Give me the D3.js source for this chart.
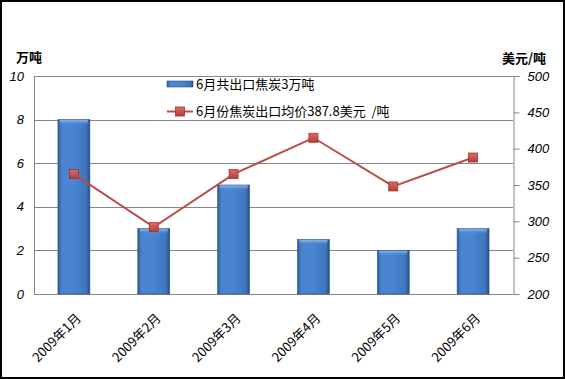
<!DOCTYPE html>
<html><head><meta charset="utf-8">
<script src="https://cdn.jsdelivr.net/npm/d3@7"></script>
<style>
html,body{margin:0;padding:0;background:#fff;}
svg{display:block;}
</style></head>
<body>
<svg id="c" width="565" height="379"></svg>
<script>
const categories = ["2009年1月","2009年2月","2009年3月","2009年4月","2009年5月","2009年6月"];
const exportVolume = [8, 3, 5, 2.5, 2, 3];          // 万吨
const avgPrice = [365, 292, 365, 415, 348, 387.8];   // 美元/吨
const leftTicks = [0, 2, 4, 6, 8, 10];
const rightTicks = [200, 250, 300, 350, 400, 450, 500];
const barLegend = "6月共出口焦炭3万吨";
const lineLegend = "6月份焦炭出口均价387.8美元  /吨";
const leftTitle = "万吨";
const rightTitle = "美元/吨";

const svg = d3.select("#c");
const W = 565, H = 379;
const m = {left: 34, right: 513, top: 76, bottom: 294};

// frame
svg.append("rect").attr("x",1).attr("y",1).attr("width",W-2).attr("height",H-2)
  .attr("fill","#fff").attr("stroke","#000").attr("stroke-width",2);

const defs = svg.append("defs");
const bg = defs.append("linearGradient").attr("id","barG").attr("x1","0").attr("x2","1").attr("y1","0").attr("y2","0");
bg.append("stop").attr("offset","0%").attr("stop-color","#2d5c98");
bg.append("stop").attr("offset","12%").attr("stop-color","#4a84cf");
bg.append("stop").attr("offset","50%").attr("stop-color","#4b86d2");
bg.append("stop").attr("offset","88%").attr("stop-color","#3f76bd");
bg.append("stop").attr("offset","100%").attr("stop-color","#264f85");
const tg = defs.append("linearGradient").attr("id","topG").attr("x1","0").attr("x2","0").attr("y1","0").attr("y2","1");
tg.append("stop").attr("offset","0%").attr("stop-color","#8fb8ea");
tg.append("stop").attr("offset","100%").attr("stop-color","#4b86d2").attr("stop-opacity",0);
const mg = defs.append("linearGradient").attr("id","mkG").attr("x1","0").attr("x2","0").attr("y1","0").attr("y2","1");
mg.append("stop").attr("offset","0%").attr("stop-color","#e06a66");
mg.append("stop").attr("offset","100%").attr("stop-color","#b53d3a");

const x = d3.scaleBand().domain(categories).range([m.left, m.right]).paddingInner(0.6).paddingOuter(0.3);
const yL = d3.scaleLinear().domain([0,10]).range([m.bottom, m.top]);
const yR = d3.scaleLinear().domain([200,500]).range([m.bottom, m.top]);

// gridlines
svg.append("g").selectAll("line").data(leftTicks.slice(1)).join("line")
  .attr("x1", m.left).attr("x2", m.right)
  .attr("y1", d=>Math.round(yL(d))+0.5).attr("y2", d=>Math.round(yL(d))+0.5)
  .attr("stroke","#868686").attr("stroke-width",1);

// axes lines
svg.append("line").attr("x1",m.left+0.5).attr("x2",m.left+0.5).attr("y1",m.top).attr("y2",m.bottom)
  .attr("stroke","#868686");
svg.append("line").attr("x1",m.left).attr("x2",m.right).attr("y1",m.bottom+0.5).attr("y2",m.bottom+0.5)
  .attr("stroke","#868686");

// right axis
const rAxis = d3.axisRight(yR).tickValues(rightTicks).tickSize(6).tickPadding(8);
const rg = svg.append("g").attr("transform",`translate(${m.right+0.5},0)`).call(rAxis);
rg.select(".domain").attr("stroke","#868686");
rg.selectAll(".tick line").attr("stroke","#868686");
rg.selectAll("text").attr("font-family","Liberation Sans, Arial, sans-serif").attr("font-style","italic")
  .attr("font-size",13).attr("fill","#000");

// left axis labels
const lAxis = d3.axisLeft(yL).tickValues(leftTicks).tickSize(0).tickPadding(10);
const lg = svg.append("g").attr("transform",`translate(${m.left},0)`).call(lAxis);
lg.select(".domain").remove();
lg.selectAll("text").attr("font-family","Liberation Sans, Arial, sans-serif").attr("font-style","italic")
  .attr("font-size",13).attr("fill","#000");

// bars
const bars = svg.append("g");
bars.selectAll("rect.b").data(exportVolume).join("rect").attr("class","b")
  .attr("x",(d,i)=>x(categories[i])).attr("width",x.bandwidth())
  .attr("y",d=>yL(d)).attr("height",d=>yL(0)-yL(d))
  .attr("fill","url(#barG)").attr("stroke","#2a5590").attr("stroke-width",0.6);
bars.selectAll("rect.t").data(exportVolume).join("rect").attr("class","t")
  .attr("x",(d,i)=>x(categories[i])+2).attr("width",x.bandwidth()-4)
  .attr("y",d=>yL(d)+0.5).attr("height",5)
  .attr("fill","url(#topG)");

// line
const cx = i => x(categories[i]) + x.bandwidth()/2;
svg.append("path").datum(avgPrice)
  .attr("d", d3.line().x((d,i)=>cx(i)).y(d=>yR(d)))
  .attr("fill","none").attr("stroke","#be4b48").attr("stroke-width",2);
svg.append("g").selectAll("rect").data(avgPrice).join("rect")
  .attr("x",(d,i)=>cx(i)-4.5).attr("y",d=>yR(d)-4.5).attr("width",9).attr("height",9)
  .attr("fill","url(#mkG)").attr("stroke","#9a3431").attr("stroke-width",0.8);

// x labels
svg.append("g").selectAll("text").data(categories).join("text")
  .attr("transform",(d,i)=>`translate(${cx(i)+8},${m.bottom+25}) rotate(-45)`)
  .attr("text-anchor","end").attr("font-family","Noto Sans CJK SC, sans-serif")
  .attr("font-size",13).attr("fill","#000").text(d=>d);

// axis titles
svg.append("text").attr("x",16).attr("y",62).attr("font-family","Noto Sans CJK SC, sans-serif")
  .attr("font-weight","bold").attr("font-size",13).text(leftTitle);
svg.append("text").attr("x",502).attr("y",63).attr("font-family","Noto Sans CJK SC, sans-serif")
  .attr("font-weight","bold").attr("font-size",13).text(rightTitle);

// legend
const lgd = svg.append("g");
lgd.append("rect").attr("x",167).attr("y",81).attr("width",26).attr("height",6)
  .attr("fill","url(#barG)").attr("stroke","#2a5590").attr("stroke-width",0.6);
lgd.append("text").attr("x",196).attr("y",89).attr("font-family","Noto Sans CJK SC, sans-serif")
  .attr("font-size",13).attr("fill","#000").attr("xml:space","preserve").style("white-space","pre").text(barLegend);
lgd.append("line").attr("x1",167).attr("x2",193).attr("y1",111.5).attr("y2",111.5)
  .attr("stroke","#be4b48").attr("stroke-width",2);
lgd.append("rect").attr("x",175.5).attr("y",107).attr("width",9).attr("height",9)
  .attr("fill","url(#mkG)").attr("stroke","#9a3431").attr("stroke-width",0.8);
lgd.append("text").attr("x",196).attr("y",116).attr("font-family","Noto Sans CJK SC, sans-serif")
  .attr("font-size",13).attr("fill","#000").style("white-space","pre").text(lineLegend);
</script>
</body></html>
